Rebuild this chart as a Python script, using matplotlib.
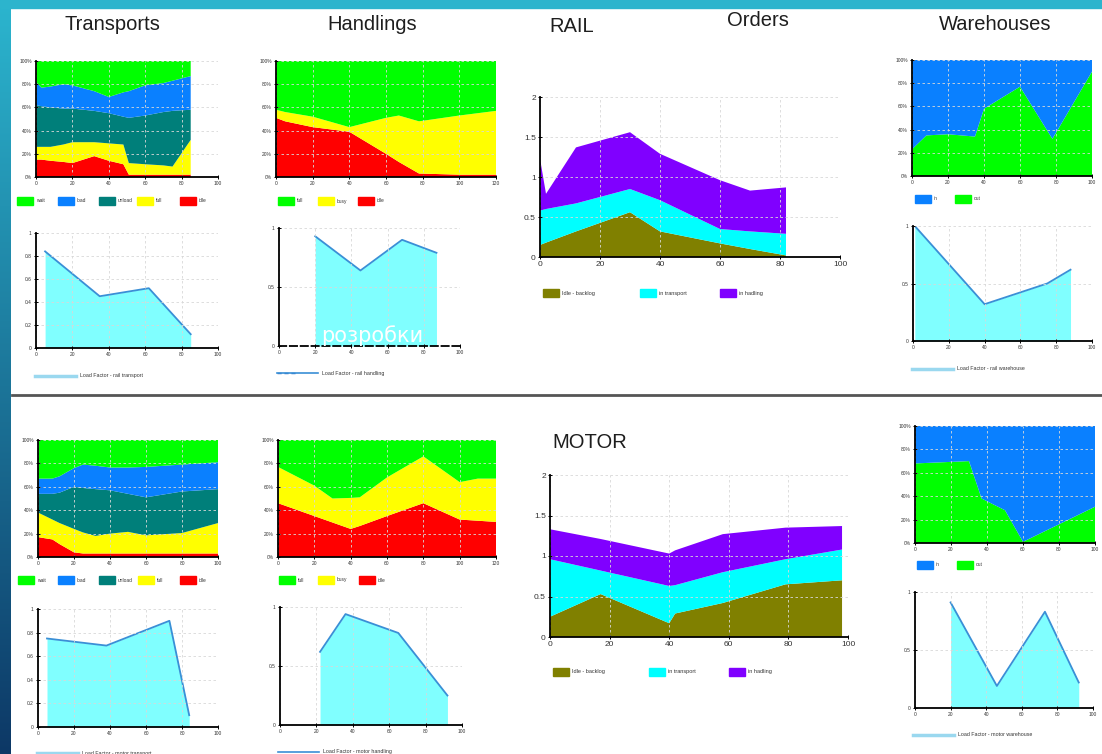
import matplotlib.pyplot as plt
import numpy as np
from matplotlib.patches import Rectangle
from matplotlib.lines import Line2D

W, H = 1102, 754

# ---------------- data ----------------
# Transports - rail (shares in %, stacked bottom -> top)
tr_rail_x = [0, 3, 8, 15, 20, 32, 40, 48, 51, 60, 70, 75, 85]
tr_rail_idle = [15, 15, 14, 13, 12, 18, 14, 11, 2, 2, 2, 2, 2]
tr_rail_full = [11, 11, 12, 15, 18, 12, 15, 17, 10, 9, 8, 7, 30]
tr_rail_unload = [36, 35, 34, 31, 29, 27, 26, 24, 39, 42, 46, 48, 26]
tr_rail_load = [20, 16, 18, 21, 20, 17, 14, 21, 23, 26, 25, 26, 29]
tr_rail_wait = [18, 23, 22, 20, 21, 26, 31, 27, 26, 21, 19, 17, 13]

# Transports - motor
tr_mot_x = [0, 8, 12, 20, 25, 32, 40, 50, 60, 80, 100]
tr_mot_idle = [17, 15, 11, 4, 3, 3, 3, 3, 3, 3, 3]
tr_mot_full = [21, 17, 18, 20, 18, 15, 17, 18.5, 15.5, 17.5, 26]
tr_mot_unload = [16, 22, 26, 36, 38, 40, 37, 32.5, 32.5, 35.5, 29]
tr_mot_load = [13, 13, 14, 16, 20, 20, 19.5, 22.5, 26, 23, 23]
tr_mot_wait = [33, 33, 31, 24, 21, 22, 23.5, 23.5, 23, 21, 19]

tr_labels = ['wait', 'load', 'unload', 'full', 'idle']
tr_colors = ['#00ff00', '#0a80ff', '#007f7a', '#ffff00', '#ff0000']

# Handlings - rail / motor
hd_rail_x = [0, 5, 20, 40, 60, 67, 78, 100, 110, 120]
hd_rail_idle = [51, 48, 43, 39, 20, 13, 3, 2, 2, 2]
hd_rail_busy = [7, 8, 9, 4, 31, 40, 45, 51, 53, 55]
hd_rail_full = [42, 44, 48, 57, 49, 47, 52, 47, 45, 43]

hd_mot_x = [0, 20, 30, 40, 45, 60, 80, 100, 110, 120]
hd_mot_idle = [46, 35, 29.5, 24, 26.5, 35, 46, 32, 31, 30]
hd_mot_busy = [31, 26, 20.5, 26.5, 24.5, 33, 40, 32, 36, 37]
hd_mot_full = [23, 39, 50, 49.5, 49, 32, 14, 36, 33, 33]

hd_labels = ['full', 'busy', 'idle']
hd_colors = ['#00ff00', '#ffff00', '#ff0000']

# Orders - rail / motor
or_rail_x = [0, 2, 12, 30, 40, 60, 70, 82]
or_rail_backlog = [0.15, 0.18, 0.32, 0.56, 0.32, 0.17, 0.10, 0.02]
or_rail_transport = [0.43, 0.42, 0.35, 0.29, 0.39, 0.18, 0.22, 0.27]
or_rail_handling = [0.65, 0.19, 0.70, 0.71, 0.58, 0.61, 0.51, 0.58]

or_mot_x = [0, 17, 40, 42, 58, 79, 98]
or_mot_backlog = [0.25, 0.53, 0.17, 0.29, 0.42, 0.65, 0.70]
or_mot_transport = [0.71, 0.29, 0.46, 0.35, 0.38, 0.31, 0.38]
or_mot_handling = [0.37, 0.39, 0.40, 0.43, 0.47, 0.39, 0.29]

or_labels = ['Idle - backlog', 'in transport', 'in hadling']
or_colors = ['#808000', '#00ffff', '#8000ff']

# Warehouses - share of "out" in %, "in" is the rest
wh_rail_x = [0, 8, 20, 35, 40, 60, 78, 100]
wh_rail_out = [23, 35, 36, 34, 58, 77, 32, 90]
wh_mot_x = [0, 30, 37, 50, 60, 100]
wh_mot_out = [68, 70, 38, 28, 1, 31]

wh_labels = ['in', 'out']
wh_colors = ['#0a80ff', '#00ff00']

# Load factors
lf_rail_tr_x = [5, 35, 62, 85]
lf_rail_tr_y = [0.84, 0.45, 0.52, 0.12]
lf_rail_hd_x = [20, 45, 68, 87]
lf_rail_hd_y = [0.93, 0.64, 0.90, 0.79]
lf_rail_wh_x = [1, 40, 75, 88]
lf_rail_wh_y = [1.0, 0.32, 0.50, 0.62]
lf_mot_tr_x = [5, 38, 73, 84]
lf_mot_tr_y = [0.75, 0.69, 0.90, 0.10]
lf_mot_hd_x = [22, 36, 65, 92]
lf_mot_hd_y = [0.62, 0.94, 0.78, 0.25]
lf_mot_wh_x = [20, 46, 73, 92]
lf_mot_wh_y = [0.91, 0.19, 0.83, 0.22]

titles = ['Transports', 'Handlings', 'RAIL', 'Orders', 'Warehouses', 'MOTOR']

# ---------------- figure ----------------
fig = plt.figure(figsize=(W / 100, H / 100), dpi=100)
fig.patch.set_facecolor('white')
plt.rcParams['font.family'] = ['Liberation Sans', 'DejaVu Sans']

# frame: left gradient strip and top bar
bg = fig.add_axes([0, 0, 11 / W, 1])
grad = np.linspace(0, 1, 256)[:, None]
top_c = np.array([0.17, 0.71, 0.81])
bot_c = np.array([0.05, 0.22, 0.40])
bg.imshow(top_c + grad[..., None] * (bot_c - top_c), aspect='auto', extent=[0, 1, 0, 1])
bg.axis('off')
fig.add_artist(Rectangle((0, 1 - 8 / H), 1, 8 / H, transform=fig.transFigure,
                         color='#2cb4cd', zorder=5))
fig.add_artist(Line2D([12 / W, 1], [1 - 395 / H] * 2, transform=fig.transFigure,
                      color='#555555', lw=2))


def px_axes(l, t, r, b):
    return fig.add_axes([l / W, 1 - b / H, (r - l) / W, (b - t) / H])


def style(ax, xmax, yticks, ylabels, fs=3.5):
    ax.set_xlim(0, xmax)
    ax.set_ylim(0, yticks[-1])
    ax.set_xticks(np.arange(0, xmax + 1, 20))
    ax.set_yticks(yticks)
    ax.set_yticklabels(ylabels)
    ax.grid(True, color='#d8d8d8', ls=(0, (3, 3)), lw=0.6)
    ax.set_axisbelow(False)
    for s in ['top', 'right']:
        ax.spines[s].set_visible(False)
    for s in ['left', 'bottom']:
        ax.spines[s].set_linewidth(1.3)
        ax.spines[s].set_zorder(6)
    ax.tick_params(labelsize=fs, length=3, width=0.7, direction='inout',
                   pad=1.5, labelcolor='#333333')
    ax.set_facecolor('none')


pct = [0, 20, 40, 60, 80, 100]
pct_lab = ['0%', '20%', '40%', '60%', '80%', '100%']


def patch_legend(xs, y, colors, labels, fs=3.5):
    for x, c, lab in zip(xs, colors, labels):
        fig.add_artist(Rectangle((x / W, 1 - (y + 4) / H), 16 / W, 8 / H,
                                 transform=fig.transFigure, color=c))
        fig.text((x + 19) / W, 1 - y / H, lab, fontsize=fs, va='center', color='#333333')


def line_legend(x, y, label, color='#9ad8ef', lw=2.5, ls='-'):
    fig.add_artist(Line2D([x / W, (x + 41) / W], [1 - y / H] * 2, transform=fig.transFigure,
                          color=color, lw=lw, ls=ls))
    fig.text((x + 45) / W, 1 - y / H, label, fontsize=3.8, va='center', color='#333333')


def lf_plot(ax, x, y):
    ax.fill_between(x, y, color='#80ffff', lw=0)
    ax.plot(x, y, color='#3a8fd6', lw=1.3)


# ---- Transports ----
ax = px_axes(36, 61, 218, 177)
ax.stackplot(tr_rail_x, tr_rail_idle, tr_rail_full, tr_rail_unload, tr_rail_load, tr_rail_wait,
             colors=tr_colors[::-1], lw=0)
style(ax, 100, pct, pct_lab)
patch_legend([17, 58, 99, 137, 180], 201, tr_colors, tr_labels)

ax = px_axes(38, 440, 218, 557)
ax.stackplot(tr_mot_x, tr_mot_idle, tr_mot_full, tr_mot_unload, tr_mot_load, tr_mot_wait,
             colors=tr_colors[::-1], lw=0)
style(ax, 100, pct, pct_lab)
patch_legend([18, 58, 99, 138, 180], 580, tr_colors, tr_labels)

# ---- Handlings ----
ax = px_axes(276, 61, 496, 177)
ax.stackplot(hd_rail_x, hd_rail_idle, hd_rail_busy, hd_rail_full, colors=hd_colors[::-1], lw=0)
style(ax, 120, pct, pct_lab)
patch_legend([278, 318, 358], 201, hd_colors, hd_labels)

ax = px_axes(278, 440, 496, 557)
ax.stackplot(hd_mot_x, hd_mot_idle, hd_mot_busy, hd_mot_full, colors=hd_colors[::-1], lw=0)
style(ax, 120, pct, pct_lab)
patch_legend([279, 318, 359], 580, hd_colors, hd_labels)

# ---- Orders ----
ax = px_axes(540, 97, 840, 257)
ax.stackplot(or_rail_x, or_rail_backlog, or_rail_transport, or_rail_handling, colors=or_colors, lw=0)
style(ax, 100, [0, 0.5, 1, 1.5, 2], ['0', '0.5', '1', '1.5', '2'], fs=6)
patch_legend([543, 640, 720], 293, or_colors, or_labels, fs=4)

ax = px_axes(550, 475, 848, 637)
ax.stackplot(or_mot_x, or_mot_backlog, or_mot_transport, or_mot_handling, colors=or_colors, lw=0)
style(ax, 100, [0, 0.5, 1, 1.5, 2], ['0', '0.5', '1', '1.5', '2'], fs=6)
patch_legend([553, 649, 729], 672, or_colors, or_labels, fs=4)

# ---- Warehouses ----
ax = px_axes(912, 60, 1092, 176)
ax.stackplot(wh_rail_x, wh_rail_out, [100 - v for v in wh_rail_out],
             colors=wh_colors[::-1], lw=0)
style(ax, 100, pct, pct_lab)
patch_legend([915, 955], 199, wh_colors, wh_labels)

ax = px_axes(915, 426, 1095, 543)
ax.stackplot(wh_mot_x, wh_mot_out, [100 - v for v in wh_mot_out],
             colors=wh_colors[::-1], lw=0)
style(ax, 100, pct, pct_lab)
patch_legend([917, 957], 565, wh_colors, wh_labels)

# ---- Load factors ----
lf5 = [0, 0.2, 0.4, 0.6, 0.8, 1]
lf5_lab = ['0', '0.2', '0.4', '0.6', '0.8', '1']
lf3 = [0, 0.5, 1]
lf3_lab = ['0', '0.5', '1']

ax = px_axes(36, 233, 218, 348)
lf_plot(ax, lf_rail_tr_x, lf_rail_tr_y)
style(ax, 100, lf5, lf5_lab)
line_legend(35, 376, 'Load Factor - rail transport')

ax = px_axes(279, 228, 460, 346)
lf_plot(ax, lf_rail_hd_x, lf_rail_hd_y)
style(ax, 100, lf3, lf3_lab)
ax.spines['bottom'].set_linestyle((0, (4, 2)))
fig.add_artist(Line2D([277 / W, 297 / W], [1 - 373 / H] * 2, transform=fig.transFigure,
                      color='#2a6fc0', lw=1, ls=(0, (3, 2))))
line_legend(277, 373, 'Load Factor - rail handling', color='#3a8fd6', lw=1.2)
fig.text(372 / W, 1 - 336 / H, 'розробки', color='white', fontsize=15,
         ha='center', va='center', family='DejaVu Sans', zorder=10)

ax = px_axes(913, 226, 1092, 341)
lf_plot(ax, lf_rail_wh_x, lf_rail_wh_y)
style(ax, 100, lf3, lf3_lab)
line_legend(912, 369, 'Load Factor - rail warehouse')

ax = px_axes(38, 609, 218, 727)
lf_plot(ax, lf_mot_tr_x, lf_mot_tr_y)
style(ax, 100, lf5, lf5_lab)
line_legend(37, 753, 'Load Factor - motor transport')

ax = px_axes(280, 607, 462, 725)
lf_plot(ax, lf_mot_hd_x, lf_mot_hd_y)
style(ax, 100, lf3, lf3_lab)
line_legend(278, 752, 'Load Factor - motor handling', color='#3a8fd6', lw=1.2)

ax = px_axes(915, 592, 1093, 708)
lf_plot(ax, lf_mot_wh_x, lf_mot_wh_y)
style(ax, 100, lf3, lf3_lab)
line_legend(913, 735, 'Load Factor - motor warehouse')

# ---- titles ----
title_pos = [(112, 25), (372, 25), (572, 27), (758, 21), (995, 25), (590, 443)]
for t, (x, y) in zip(titles, title_pos):
    fig.text(x / W, 1 - y / H, t, fontsize=14.5, ha='center', va='center', color='#1e1e1e')

fig.savefig('out.png', dpi=100)
